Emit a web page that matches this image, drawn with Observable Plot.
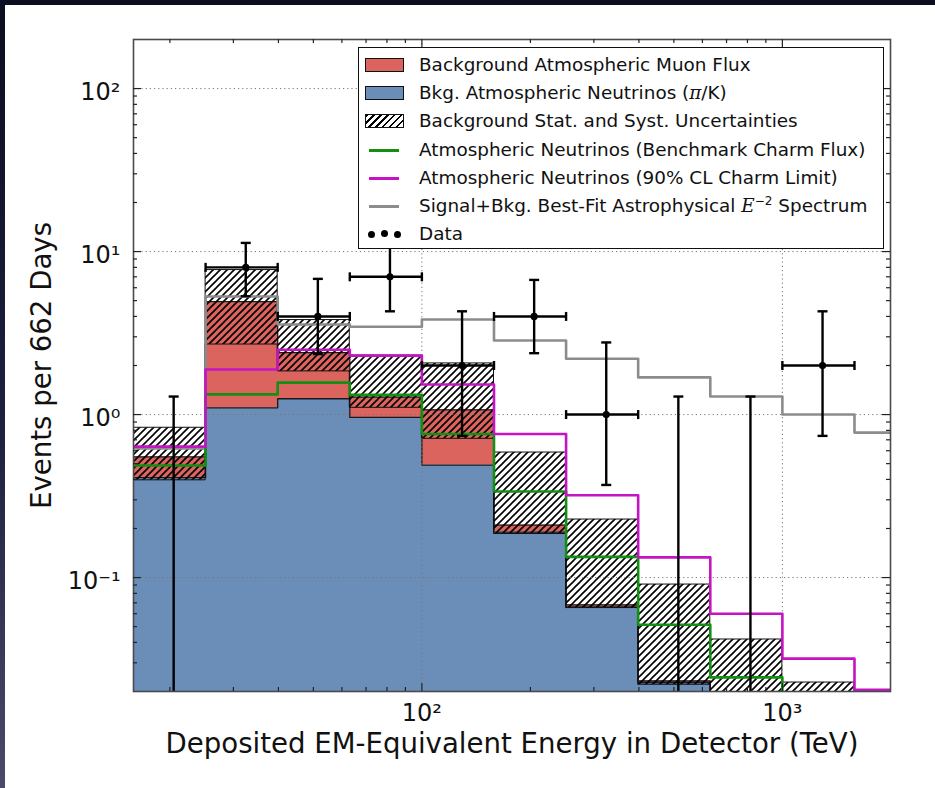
<!DOCTYPE html>
<html><head><meta charset="utf-8">
<script src="https://cdn.jsdelivr.net/npm/d3@7"></script>
<script src="https://cdn.jsdelivr.net/npm/@observablehq/plot@0.6"></script>
<style>
html,body{margin:0;padding:0;}
body{width:935px;height:788px;position:relative;overflow:hidden;
  background:linear-gradient(to bottom,#0b0d20 0%,#1d2040 55%,#4b4a68 100%);
  font-family:"DejaVu Sans",sans-serif;}
#paper{position:absolute;left:5px;top:5px;right:0;bottom:0;background:#fff;}
#chart{position:absolute;left:0;top:0;}
#legend{position:absolute;left:358px;top:47px;width:524px;height:197px;background:#fff;
  border:1.5px solid #111;padding-top:3px;box-sizing:content-box;font-size:18.4px;color:#111;}
#legend .row{position:relative;height:28.2px;line-height:28.2px;white-space:nowrap;}
#legend .txt{position:absolute;left:60px;top:0;}
#legend .sw{position:absolute;}
#legend i.m{font-family:"DejaVu Serif",serif;font-style:italic;}
#legend sup{font-size:12px;vertical-align:7px;line-height:0;}
</style></head>
<body>
<div id="paper"></div>
<div id="chart"></div>
<div id="legend"></div>
<script>
// ---- data ----
const binEdges = [15.85, 25.12, 39.81, 63.10, 100, 158.5, 251.2, 398.1, 631.0, 1000, 1585, 2512];
const atmNeutrinos   = [0.41, 1.10, 1.25, 0.96, 0.49, 0.19, 0.066, 0.0227, 0.011, 0.006, 0.003];
const muonFlux       = [0.14, 3.83, 1.15, 0.32, 0.58, 0.02, 0.002, 0.0005, 0, 0, 0];
const uncLow         = [0.395, 2.69, 1.84, 1.10, 0.71, 0.185, 0.065, 0.022, 0.011, 0.006, 0.003];
const uncHigh        = [0.83, 7.7, 3.8, 2.30, 2.06, 0.585, 0.227, 0.0906, 0.0417, 0.0227, 0.011];
const charmBenchmark = [0.487, 1.33, 1.57, 1.32, 0.76, 0.337, 0.134, 0.0514, 0.0244, 0.012, 0.006];
const charmLimit     = [0.636, 1.89, 2.50, 2.30, 1.53, 0.76, 0.32, 0.133, 0.060, 0.0318, 0.0205];
const bestFit        = [0.62, 5.3, 3.57, 3.46, 3.83, 2.85, 2.2, 1.69, 1.29, 1.0, 0.775];
const dataCounts     = [0, 8, 4, 7, 2, 4, 1, 0, 0, 2];
const dataErrLow     = [0, 5.32, 2.35, 4.3, 0.74, 2.38, 0.37, 0, 0, 0.74];
const dataErrHigh    = [1.29, 11.3, 6.8, 11.0, 4.3, 6.7, 2.77, 1.29, 1.29, 4.3];

const xTicks = [100, 1000];
const xMinorTicks = [20,30,40,50,60,70,80,90,200,300,400,500,600,700,800,900];
const yTicks = [0.1, 1, 10, 100];
const yMinorTicks = [0.03,0.04,0.05,0.06,0.07,0.08,0.09,0.2,0.3,0.4,0.5,0.6,0.7,0.8,0.9,2,3,4,5,6,7,8,9,20,30,40,50,60,70,80,90];
const xDomain = [15.85, 1995];
const yDomain = [0.02, 200];

const xTitle = "Deposited EM-Equivalent Energy in Detector (TeV)";
const yTitle = "Events per 662 Days";

const muonColor = "#dc645f", nuColor = "#6b8eb9", benchColor = "#139013", limitColor = "#c414c4", fitColor = "#8c8c8c";

// ---- helpers ----
const nb = atmNeutrinos.length;
const total = atmNeutrinos.map((v, i) => v + muonFlux[i]);
function steps(values) {
  const pts = values.map((v, i) => ({x: binEdges[i], y: v}));
  pts.push({x: binEdges[nb], y: values[nb - 1]});
  return pts;
}
function band(lo, hi) {
  const pts = lo.map((v, i) => ({x: binEdges[i], y1: v, y2: hi[i]}));
  pts.push({x: binEdges[nb], y1: lo[nb - 1], y2: hi[nb - 1]});
  return pts;
}
const floor = 1e-4;
const baseline = atmNeutrinos.map(() => floor);
const dataRows = dataCounts.map((n, i) => ({
  n, x1: binEdges[i], x2: binEdges[i + 1], xc: (binEdges[i] + binEdges[i + 1]) / 2,
  lo: Math.max(dataErrLow[i], floor), hi: dataErrHigh[i]
}));
const hasData = dataRows.filter(d => d.n > 0);

const hCap = {draw(ctx, size) { const r = Math.sqrt(size / Math.PI); ctx.moveTo(-r, 0); ctx.lineTo(r, 0); }};
const vCap = {draw(ctx, size) { const r = Math.sqrt(size / Math.PI); ctx.moveTo(0, -r); ctx.lineTo(0, r); }};

const sup = {"-": "\u207B", "0": "\u2070", "1": "\u00B9", "2": "\u00B2", "3": "\u00B3"};
const pow10 = d => "10" + String(Math.round(Math.log10(d))).split("").map(c => sup[c]).join("");

const W = 935, H = 788, mL = 133, mR = 45, mT = 39, mB = 97;
const fw = W - mL - mR, fh = H - mT - mB;
const edge = {stroke: "#1a1a1a", strokeWidth: 1.3, curve: "step-after", clip: true};
const tickStyle = {stroke: "#222", strokeWidth: 1.2};

const chart = Plot.plot({
  width: W, height: H,
  marginLeft: mL, marginRight: mR, marginTop: mT, marginBottom: mB,
  x: {type: "log", domain: xDomain},
  y: {type: "log", domain: yDomain},
  style: {background: "transparent", fontFamily: "DejaVu Sans, sans-serif", color: "#111", overflow: "visible"},
  marks: [
    Plot.areaY(band(baseline, atmNeutrinos), {x: "x", y1: "y1", y2: "y2", curve: "step-after", fill: nuColor, clip: true}),
    Plot.areaY(band(atmNeutrinos, total), {x: "x", y1: "y1", y2: "y2", curve: "step-after", fill: muonColor, clip: true}),
    Plot.lineY(steps(atmNeutrinos), {x: "x", y: "y", ...edge}),
    Plot.lineY(steps(total), {x: "x", y: "y", ...edge}),
    Plot.areaY(band(uncLow, uncHigh), {x: "x", y1: "y1", y2: "y2", curve: "step-after", fill: "url(#hatch)", stroke: "#111", strokeWidth: 1, clip: true}),
    // grid
    Plot.ruleX(xTicks, {stroke: "#777", strokeWidth: 1, strokeDasharray: "1.2,3"}),
    Plot.ruleY(yTicks, {stroke: "#777", strokeWidth: 1, strokeDasharray: "1.2,3"}),
    // model lines
    Plot.lineY(steps(bestFit), {x: "x", y: "y", stroke: fitColor, strokeWidth: 2.6, curve: "step-after", clip: true}),
    Plot.lineY(steps(charmBenchmark), {x: "x", y: "y", stroke: benchColor, strokeWidth: 2.6, curve: "step-after", clip: true}),
    Plot.lineY(steps(charmLimit), {x: "x", y: "y", stroke: limitColor, strokeWidth: 2.6, curve: "step-after", clip: true}),
    // data
    Plot.ruleX(dataRows, {x: "xc", y1: "lo", y2: "hi", stroke: "#000", strokeWidth: 2.4, clip: true}),
    Plot.ruleY(hasData, {y: "n", x1: "x1", x2: "x2", stroke: "#000", strokeWidth: 2.4, clip: true}),
    Plot.dot(dataRows, {x: "xc", y: "hi", symbol: hCap, r: 5, stroke: "#000", strokeWidth: 2.4, fill: "none"}),
    Plot.dot(hasData, {x: "xc", y: "lo", symbol: hCap, r: 5, stroke: "#000", strokeWidth: 2.4, fill: "none"}),
    Plot.dot(hasData, {x: "x1", y: "n", symbol: vCap, r: 4.5, stroke: "#000", strokeWidth: 2.4, fill: "none"}),
    Plot.dot(hasData, {x: "x2", y: "n", symbol: vCap, r: 4.5, stroke: "#000", strokeWidth: 2.4, fill: "none"}),
    Plot.dot(hasData, {x: "xc", y: "n", r: 3.6, fill: "#000"}),
    // frame and inward ticks
    Plot.frame({stroke: "#4a4a4a", strokeWidth: 1.6}),
    Plot.ruleX(xTicks, {...tickStyle, insetTop: fh - 8}),
    Plot.ruleX(xTicks, {...tickStyle, insetBottom: fh - 8}),
    Plot.ruleX(xMinorTicks, {...tickStyle, insetTop: fh - 4}),
    Plot.ruleX(xMinorTicks, {...tickStyle, insetBottom: fh - 4}),
    Plot.ruleY(yTicks, {...tickStyle, insetRight: fw - 8}),
    Plot.ruleY(yTicks, {...tickStyle, insetLeft: fw - 8}),
    Plot.ruleY(yMinorTicks, {...tickStyle, insetRight: fw - 4}),
    Plot.ruleY(yMinorTicks, {...tickStyle, insetLeft: fw - 4}),
    // tick labels and titles
    Plot.axisX({ticks: xTicks, tickSize: 0, tickPadding: 12, tickFormat: pow10, fontSize: 24, label: null}),
    Plot.axisY({ticks: yTicks, tickSize: 0, tickPadding: 13, tickFormat: pow10, fontSize: 24, dy: 4, label: null}),
    Plot.text([xTitle], {frameAnchor: "bottom", dy: 61, fontSize: 27.6, text: d => d}),
    Plot.text([yTitle], {frameAnchor: "left", dx: -91, rotate: -90, textAnchor: "middle", fontSize: 27.6, text: d => d})
  ]
});

// hatch pattern used by the uncertainty band
const defs = d3.select(chart).insert("defs", ":first-child");
const pat = defs.append("pattern").attr("id", "hatch").attr("patternUnits", "userSpaceOnUse").attr("width", 7).attr("height", 7);
pat.append("path").attr("d", "M-1,1 l2,-2 M0,7 l7,-7 M6,8 l2,-2").attr("stroke", "#000").attr("stroke-width", 1.6).attr("fill", "none");

document.getElementById("chart").appendChild(chart);

// legend
const legendItems = [
  {kind: "patch", color: muonColor, label: "Background Atmospheric Muon Flux"},
  {kind: "patch", color: nuColor, label: "Bkg. Atmospheric Neutrinos (<i class='m'>\u03C0</i>/K)"},
  {kind: "hatch", label: "Background Stat. and Syst. Uncertainties"},
  {kind: "line", color: benchColor, label: "Atmospheric Neutrinos (Benchmark Charm Flux)"},
  {kind: "line", color: limitColor, label: "Atmospheric Neutrinos (90% CL Charm Limit)"},
  {kind: "line", color: fitColor, label: "Signal+Bkg. Best-Fit Astrophysical <i class='m'>E</i><sup>\u22122</sup> Spectrum"},
  {kind: "data", label: "Data"}
];
const leg = document.getElementById("legend");
for (const it of legendItems) {
  const row = document.createElement("div");
  row.className = "row";
  let sw = "";
  if (it.kind === "patch") sw = `<span class="sw" style="left:6px;top:7px;width:37px;height:12px;background:${it.color};border:1.3px solid #111"></span>`;
  else if (it.kind === "hatch") sw = `<span class="sw" style="left:6px;top:7px;width:37px;height:12px;border:1.3px solid #111;background:repeating-linear-gradient(135deg,#000 0 1.6px,#fff 1.6px 4.9px)"></span>`;
  else if (it.kind === "line") sw = `<span class="sw" style="left:10px;top:13px;width:30px;height:3px;background:${it.color}"></span>`;
  else sw = [9, 22, 35].map((x, k) => `<span class="sw" style="left:${x}px;top:${k === 1 ? 10 : 11}px;width:7px;height:7px;border-radius:50%;background:#000"></span>`).join("");
  row.innerHTML = sw + `<span class="txt">${it.label}</span>`;
  leg.appendChild(row);
}
</script>
</body></html>
